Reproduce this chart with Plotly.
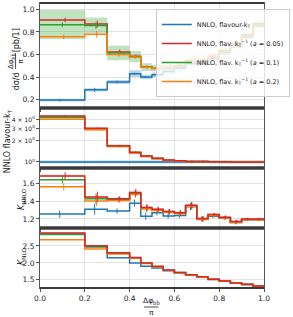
import plotly.graph_objects as go
from plotly.subplots import make_subplots

edges = [0, 0.2, 0.3, 0.4, 0.45, 0.5, 0.55, 0.6, 0.65, 0.7, 0.75, 0.8, 0.85, 0.9, 0.95, 1.0]

# Panel 1: d sigma / d(dphi/pi)
xs_blue = [0.195, 0.286, 0.356, 0.43, 0.40, 0.42, 0.45, 0.48, 0.52, 0.52, 0.57, 0.62, 0.68, 0.76, 0.86]
xs_red = [0.906, 0.871, 0.623, 0.585, 0.49, 0.475, 0.485, 0.50, 0.545, 0.545, 0.58, 0.63, 0.69, 0.77, 0.87]
xs_green = [0.865, 0.858, 0.613, 0.58, 0.488, 0.478, 0.483, 0.50, 0.543, 0.545, 0.578, 0.628, 0.688, 0.768, 0.868]
xs_orange = [0.758, 0.78, 0.60, 0.575, 0.487, 0.477, 0.482, 0.498, 0.543, 0.544, 0.577, 0.627, 0.687, 0.767, 0.867]
xs_green_band = [0.13, 0.07, 0.065, 0.05, 0.035, 0.03, 0.03, 0.03, 0.03, 0.03, 0.03, 0.03, 0.03, 0.03, 0.03]
xs_blue_band = [0.012, 0.015, 0.018, 0.03, 0.02, 0.02, 0.02, 0.02, 0.02, 0.02, 0.02, 0.02, 0.02, 0.02, 0.02]
xs_err = [0.02, 0.03, 0.02, 0.015, 0.012, 0.012, 0.012, 0.012, 0.012, 0.012, 0.012, 0.012, 0.012, 0.012, 0.012]

# Panel 2: ratio to NNLO flavour-kT
r_blue = [1.0] * 15
r_red = [4.54, 3.03, 1.71, 1.38, 1.22, 1.13, 1.07, 1.04, 1.02, 1.02, 1.01, 1.01, 1.0, 1.0, 1.0]
r_green = [4.35, 2.95, 1.69, 1.36, 1.21, 1.12, 1.06, 1.03, 1.02, 1.02, 1.01, 1.0, 1.0, 1.0, 1.0]
r_orange = [4.07, 2.88, 1.67, 1.34, 1.20, 1.11, 1.05, 1.03, 1.01, 1.01, 1.0, 1.0, 1.0, 1.0, 1.0]
r_green_band = [0.08, 0.05, 0.05, 0.05, 0.04, 0.04, 0.04, 0.04, 0.04, 0.04, 0.04, 0.04, 0.04, 0.04, 0.04]
r_blue_band = [0.05] * 15

# Panel 3: K_NNLO
kn_blue = [1.255, 1.31, 1.29, 1.38, 1.23, 1.27, 1.235, 1.24, 1.34, 1.20, 1.23, 1.21, 1.16, 1.19, 1.19]
kn_red = [1.69, 1.45, 1.43, 1.50, 1.33, 1.31, 1.285, 1.27, 1.355, 1.205, 1.25, 1.22, 1.17, 1.20, 1.20]
kn_green = [1.645, 1.43, 1.42, 1.49, 1.32, 1.30, 1.28, 1.265, 1.35, 1.20, 1.245, 1.215, 1.165, 1.195, 1.195]
kn_orange = [1.566, 1.405, 1.41, 1.48, 1.315, 1.295, 1.275, 1.26, 1.345, 1.195, 1.24, 1.21, 1.16, 1.19, 1.19]
kn_err = [0.04, 0.06, 0.03, 0.04, 0.04, 0.03, 0.03, 0.03, 0.04, 0.03, 0.02, 0.02, 0.02, 0.015, 0.015]

# Panel 4: K_NLO
k_blue = [2.85, 2.48, 2.15, 2.0, 1.9, 1.85, 1.77, 1.71, 1.64, 1.58, 1.51, 1.46, 1.40, 1.36, 1.31]
k_red = [2.88, 2.51, 2.30, 2.16, 2.0, 1.9, 1.79, 1.72, 1.65, 1.59, 1.52, 1.47, 1.41, 1.37, 1.32]
k_green = [2.84, 2.48, 2.28, 2.15, 1.99, 1.89, 1.785, 1.715, 1.645, 1.585, 1.515, 1.465, 1.405, 1.365, 1.315]
k_orange = [2.68, 2.41, 2.26, 2.14, 1.98, 1.885, 1.78, 1.71, 1.64, 1.58, 1.51, 1.46, 1.40, 1.36, 1.31]

names = ["NNLO, flavour-k<sub>T</sub>",
         "NNLO, flav. k<sub>T</sub><sup>−1</sup> (<i>a</i> = 0.05)",
         "NNLO, flav. k<sub>T</sub><sup>−1</sup> (<i>a</i> = 0.1)",
         "NNLO, flav. k<sub>T</sub><sup>−1</sup> (<i>a</i> = 0.2)"]
C = {"blue": "#1f77b4", "red": "#d62728", "green": "#2ca02c", "orange": "#ff7f0e"}
RGBA = {"blue": "rgba(31,119,180,0.3)", "red": "rgba(214,39,40,0.25)",
        "green": "rgba(44,160,44,0.3)", "orange": "rgba(255,127,14,0.3)"}
offs = {"blue": -0.06, "red": 0.06, "green": 0.0, "orange": 0.03}

fig = make_subplots(rows=4, cols=1, shared_xaxes=True, vertical_spacing=0,
                    row_heights=[105, 60, 60, 60])

def stepy(v):
    return list(v) + [v[-1]]

def band(row, vals, half, col, rel=False):
    if rel:
        lo = [v * (1 - h) for v, h in zip(vals, half)]
        hi = [v * (1 + h) for v, h in zip(vals, half)]
    else:
        lo = [v - h for v, h in zip(vals, half)]
        hi = [v + h for v, h in zip(vals, half)]
    fig.add_trace(go.Scatter(x=edges, y=stepy(lo), mode="lines", line=dict(width=0, shape="hv"),
                             showlegend=False, hoverinfo="skip"), row=row, col=1)
    fig.add_trace(go.Scatter(x=edges, y=stepy(hi), mode="lines", line=dict(width=0, shape="hv"),
                             fill="tonexty", fillcolor=RGBA[col], showlegend=False, hoverinfo="skip"),
                  row=row, col=1)

def step(row, vals, col, name=None, rank=None, err=None):
    fig.add_trace(go.Scatter(x=edges, y=stepy(vals), mode="lines",
                             line=dict(color=C[col], width=1.5, shape="hv"),
                             name=name if name else "", showlegend=bool(name),
                             legendrank=rank if rank else 1000, hoverinfo="skip"),
                  row=row, col=1)
    if err is not None:
        cx = [(a + b) / 2 + offs[col] * (b - a) for a, b in zip(edges[:-1], edges[1:])]
        fig.add_trace(go.Scatter(x=cx, y=vals, mode="markers", marker=dict(size=0.1, color=C[col]),
                                 error_y=dict(type="data", array=err, width=0, thickness=1, color=C[col]),
                                 showlegend=False, hoverinfo="skip"), row=row, col=1)

# Panel 1
band(1, xs_green, xs_green_band, "green")
band(1, xs_blue, xs_blue_band, "blue")
step(1, xs_blue, "blue", names[0], 1, [e * 0.6 for e in xs_err])
step(1, xs_red, "red", names[1], 2, xs_err)
step(1, xs_green, "green", names[2], 3, xs_err)
step(1, xs_orange, "orange", names[3], 4, xs_err)

# Panel 2
band(2, r_green, r_green_band, "green", rel=True)
band(2, r_blue, r_blue_band, "blue", rel=True)
step(2, r_blue, "blue", err=[0.0] * 15)
step(2, r_green, "green")
step(2, r_orange, "orange")
step(2, r_red, "red", err=[v * 0.03 for v in r_red])

# Panel 3
band(3, kn_red, [0.012] * 15, "red")
step(3, kn_blue, "blue", err=kn_err)
step(3, kn_green, "green", err=kn_err)
step(3, kn_orange, "orange", err=kn_err)
step(3, kn_red, "red", err=kn_err)

# Panel 4
band(4, k_red, [0.015] * 15, "red")
step(4, k_blue, "blue")
step(4, k_green, "green")
step(4, k_orange, "orange")
step(4, k_red, "red")

tickfont = dict(family="DejaVu Sans", size=7.5, color="#222")
axcommon = dict(showgrid=True, gridcolor="#e3e3e3", gridwidth=0.8, showline=True, mirror=True,
                linecolor="#555", linewidth=1, ticks="outside", ticklen=3, tickcolor="#555",
                tickfont=tickfont, zeroline=False, automargin=False)

for r in range(1, 5):
    fig.update_xaxes(range=[0, 1], tickvals=[0, 0.2, 0.4, 0.6, 0.8, 1.0],
                     showticklabels=(r == 4), row=r, col=1, **axcommon)
fig.update_xaxes(ticktext=["0.0", "0.2", "0.4", "0.6", "0.8", "1.0"], row=4, col=1)

fig.update_yaxes(range=[0.125, 1.057], tickvals=[0.2, 0.4, 0.6, 0.8, 1.0],
                 ticktext=["0.2", "0.4", "0.6", "0.8", "1.0"], row=1, col=1, **axcommon)
fig.update_yaxes(type="log", range=[-0.086, 0.771], tickvals=[1, 2, 3, 4],
                 ticktext=["10<sup>0</sup>", "2 × 10<sup>0</sup>", "3 × 10<sup>0</sup>", "4 × 10<sup>0</sup>"],
                 row=2, col=1, **axcommon)
fig.update_yaxes(tickfont=dict(family="DejaVu Sans", size=6, color="#222"), row=2, col=1)
fig.update_yaxes(range=[1.097, 1.78], tickvals=[1.2, 1.4, 1.6], ticktext=["1.2", "1.4", "1.6"],
                 row=3, col=1, **axcommon)
fig.update_yaxes(range=[1.26, 3.03], tickvals=[1.5, 2.0, 2.5], ticktext=["1.5", "2.0", "2.5"],
                 row=4, col=1, **axcommon)

L, R, T, B = 40, 5.5, 3, 29
W, H = 293, 317
PW, PH = W - L - R, H - T - B

def px(x):
    return (x - L) / PW

def py(y):
    return (H - B - y) / PH

ann = []
def A(text, x, y, size=8, angle=-90):
    ann.append(dict(text=text, x=px(x), y=py(y), xref="paper", yref="paper", showarrow=False,
                    textangle=angle, font=dict(family="DejaVu Sans", size=size, color="#222"),
                    xanchor="center", yanchor="middle"))

# y label panel 1 (with fraction)
A("dσ/d", 15, 81)
A("Δφ<sub>bb̄</sub>", 8, 61, size=7)
A("π", 18.5, 61, size=7)
A("[pb/1]", 15, 40)
# other y labels
A("NNLO flavour-k<sub>T</sub>", 5, 141)
A("<i>K</i><sub>NNLO</sub>", 20, 199)
A("<i>K</i><sub>NLO</sub>", 20, 256)
# x label fraction
A("Δφ<sub>bb̄</sub>", 163, 301, size=7.5, angle=0)
A("π", 163, 312, size=7.5, angle=0)

shapes = [
    dict(type="line", xref="paper", yref="paper", x0=px(13), x1=px(13), y0=py(53), y1=py(69),
         line=dict(color="#222", width=0.8)),
    dict(type="line", xref="paper", yref="paper", x0=px(155), x1=px(171), y0=py(307), y1=py(307),
         line=dict(color="#222", width=0.8)),
]
for yb, w in [(T, 2), (108, 3.5), (168, 3.5), (228, 3.5), (H - B, 2)]:
    shapes.append(dict(type="line", xref="paper", yref="paper", x0=0, x1=1, y0=py(yb), y1=py(yb),
                       line=dict(color="#3a3a3a", width=w)))

fig.update_layout(
    width=W, height=H, margin=dict(l=L, r=R, t=T, b=B),
    paper_bgcolor="white", plot_bgcolor="white",
    annotations=ann, shapes=shapes,
    legend=dict(x=px(168), y=py(9), xanchor="left", yanchor="top", traceorder="normal",
                bgcolor="rgba(255,255,255,0.8)", bordercolor="#cccccc", borderwidth=1,
                font=dict(family="DejaVu Sans", size=6.5, color="#222"), itemwidth=30,
                tracegroupgap=0),
    showlegend=True,
)

fig.write_html("out.html", config={"displayModeBar": False},
               post_script="document.body.style.margin='0';document.body.style.overflow='hidden';")
